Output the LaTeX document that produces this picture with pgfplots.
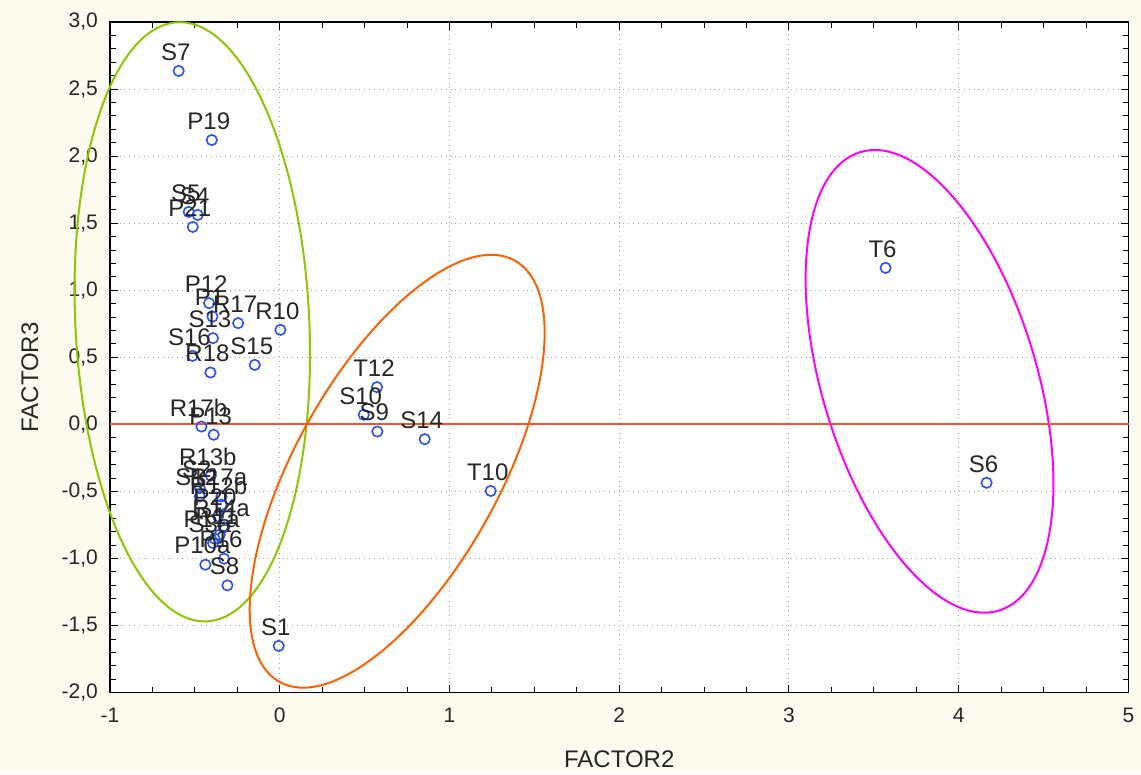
\documentclass[border=0pt]{standalone}
\usepackage{pgfplots}
\pgfplotsset{compat=1.18}
\usepackage{pgfplotstable}
\usepackage{fontspec}
\setmainfont{Liberation Sans}
\usetikzlibrary{shapes.geometric}
\definecolor{bgcream}{RGB}{253,250,240}
\definecolor{ptblue}{RGB}{40,80,255}
\definecolor{ellgreen}{RGB}{140,200,0}
\definecolor{ellorange}{RGB}{255,96,0}
\definecolor{ellmag}{RGB}{255,0,255}
\definecolor{zeroline}{RGB}{250,80,50}

\pgfplotstableread{
x y label
-0.595 2.635 S7
-0.400 2.120 P19
-0.536 1.584 S5
-0.483 1.562 S4
-0.512 1.472 P21
-0.416 0.904 P12
-0.396 0.804 P1
-0.245 0.755 R17
0.004 0.705 R10
-0.393 0.643 S13
-0.514 0.511 S16
-0.408 0.387 R18
-0.147 0.444 S15
-0.461 -0.016 R17b
-0.389 -0.077 P13
0.573 0.278 T12
0.495 0.072 S10
0.575 -0.053 S9
0.854 -0.110 S14
1.243 -0.496 T10
-0.006 -1.651 S1
3.569 1.167 T6
4.164 -0.435 S6
-0.406 -0.381 R13b
-0.471 -0.475 S2
-0.471 -0.537 S12
-0.343 -0.537 R17a
-0.343 -0.599 R12b
-0.363 -0.686 P20
-0.328 -0.768 R14a
-0.353 -0.823 R11
-0.383 -0.852 P17a
-0.393 -0.884 S3a
-0.328 -1.001 P16
-0.438 -1.046 P10a
-0.308 -1.200 S8
}\pts

\begin{document}
\begin{tikzpicture}
\fill[bgcream] (-55pt,-39pt) rectangle (515.5pt,346.5pt);
\begin{axis}[
  scale only axis,
  width=509.5pt, height=335.5pt,
  at={(0,0)}, anchor=south west,
  xmin=-1, xmax=5, ymin=-2, ymax=3,
  xtick={-1,0,...,5},
  ytick={-2,-1.5,...,3},
  minor x tick num=3,
  minor y tick num=4,
  tick align=inside,
  major tick length=4pt,
  minor tick length=3pt,
  tick style={black, line width=0.5pt},
  axis line style={black, line width=0.6pt},
  axis background/.style={fill=white},
  grid=major,
  major grid style={dotted, gray!70, line width=0.5pt},
  clip=false,
  /pgf/number format/assume math mode=true,
  font=\fontsize{10.5}{12}\selectfont,
  ticklabel style={font=\fontsize{10.5}{12}\selectfont, text=black!85},
  yticklabel style={/pgf/number format/fixed, /pgf/number format/fixed zerofill, /pgf/number format/precision=1, /pgf/number format/use comma, xshift=-2.5pt},
  xticklabel style={yshift=-4pt},
  xlabel={FACTOR2},
  ylabel={FACTOR3},
  xlabel style={at={(axis description cs:0.5,0)}, anchor=center, yshift=-33.5pt, font=\fontsize{12}{14}\selectfont, text=black!85},
  ylabel style={at={(axis description cs:0,0.47)}, anchor=center, yshift=40pt, font=\fontsize{12}{14}\selectfont, text=black!85},
]
\node[draw=ellgreen, line width=1pt, ellipse, inner sep=0pt, minimum width=117pt, minimum height=300pt, rotate=2.8] at (axis cs:-0.515,0.765) {};
\node[draw=ellorange, line width=1pt, ellipse, inner sep=0pt, minimum width=241.4pt, minimum height=101.8pt, rotate=60.8] at (axis cs:0.692,-0.349) {};
\node[draw=ellmag, line width=1pt, ellipse, inner sep=0pt, minimum width=239.6pt, minimum height=107.4pt, rotate=106.8] at (axis cs:3.828,0.321) {};
\addplot[zeroline, line width=1pt] coordinates {(-1,0) (5,0)};
\addplot[only marks, mark=o, mark size=2.6pt, ptblue, mark options={line width=0.8pt},
  nodes near coords, point meta=explicit symbolic,
  every node near coord/.append style={font=\fontsize{12}{14}\selectfont, text=black!85, anchor=center, yshift=9.5pt, xshift=-1.5pt, inner sep=0pt}]
  table[x=x, y=y, meta=label] {\pts};
\end{axis}
\end{tikzpicture}
\end{document}
